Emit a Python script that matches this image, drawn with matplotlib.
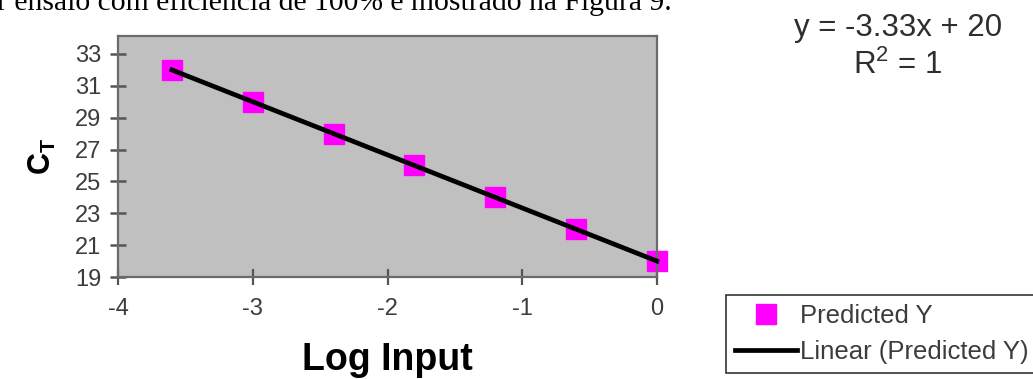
import numpy as np
import matplotlib
matplotlib.use("Agg")
import matplotlib.pyplot as plt
from matplotlib.lines import Line2D

# ---- data ----
log_input = [-3.6, -3.0, -2.4, -1.8, -1.2, -0.6, 0.0]
ct_values = [32, 30, 28, 26, 24, 22, 20]
x_ticks = [-4, -3, -2, -1, 0]
y_ticks = [19, 21, 23, 25, 27, 29, 31, 33]
equation_text = "y = -3.33x + 20"
r2_text = "R$^{2}$ = 1"
caption_text = "r ensaio com eficiência de 100% é mostrado na Figura 9."
series_label = "Predicted Y"
trend_label = "Linear (Predicted Y)"

plt.rcParams['font.family'] = ['Liberation Sans', 'DejaVu Sans']
plt.rcParams['mathtext.fontset'] = 'custom'
plt.rcParams['mathtext.rm'] = 'Liberation Sans'
plt.rcParams['mathtext.bf'] = 'Liberation Sans:bold'

W, H = 1033, 379
fig = plt.figure(figsize=(W / 100, H / 100), dpi=100)
fig.patch.set_facecolor('white')

L, R, T, B = 118, 657, 36, 277
ax = fig.add_axes([L / W, 1 - B / H, (R - L) / W, (B - T) / H])
ax.set_facecolor('#c0c0c0')

magenta = '#ff00ff'
# trend line from a least-squares fit of the data
coef = np.polyfit(log_input, ct_values, 1)
xs = np.array([min(log_input), max(log_input)])
ax.plot(xs, np.polyval(coef, xs), color='black', lw=3.4, zorder=3, clip_on=False)
ax.plot(log_input, ct_values, linestyle='none', marker='s', markersize=14,
        markerfacecolor=magenta, markeredgecolor=magenta, zorder=2, clip_on=False)

ax.set_xlim(-4, 0)
ax.set_ylim(19, 34.13)
ax.set_xticks(x_ticks)
ax.set_yticks(y_ticks)
ax.set_xticklabels([str(v) for v in x_ticks])
ax.set_yticklabels([str(v) for v in y_ticks])

for s in ax.spines.values():
    s.set_color('#6a6a6a')
    s.set_linewidth(1.6)

ax.tick_params(axis='y', direction='inout', length=12, width=1.8, color='#555555',
               labelsize=17, labelcolor='#3c3c3c', pad=6)
ax.tick_params(axis='x', direction='inout', length=12, width=1.6, color='#555555',
               labelsize=17, labelcolor='#3c3c3c', pad=9)

ax.set_xlabel('Log Input', fontsize=27, fontweight='bold', labelpad=16)
ax.set_ylabel(r'$\mathbf{C}_\mathbf{T}$', fontsize=22, labelpad=12)

# trendline equation
fig.text(898 / W, 1 - 28 / H, equation_text, ha='center', va='center',
         fontsize=22.5, color='#2e2e2e')
fig.text(898 / W, 1 - 65 / H, r2_text, ha='center', va='center',
         fontsize=22.5, color='#2e2e2e')

# caption line from the document (cut at top)
fig.text(-3 / W, 1 - 9.5 / H, caption_text, ha='left', va='baseline',
         fontsize=21.3, family=['Liberation Serif', 'DejaVu Serif'], color='black')

handles = [
    Line2D([], [], linestyle='none', marker='s', markersize=14,
           markerfacecolor=magenta, markeredgecolor=magenta),
    Line2D([], [], color='black', lw=3.4),
]
leg = fig.legend(handles, [series_label, trend_label], loc='upper left',
                 bbox_to_anchor=(726 / W, 1 - 295 / H), borderaxespad=0,
                 fontsize=18.5, frameon=True, fancybox=False, edgecolor='black',
                 handlelength=2.4, handletextpad=0.12, labelspacing=0.45,
                 borderpad=0.35)
leg.get_frame().set_linewidth(1.2)
for t in leg.get_texts():
    t.set_color('#3c3c3c')

fig.savefig('out.png', dpi=100, facecolor='white')
